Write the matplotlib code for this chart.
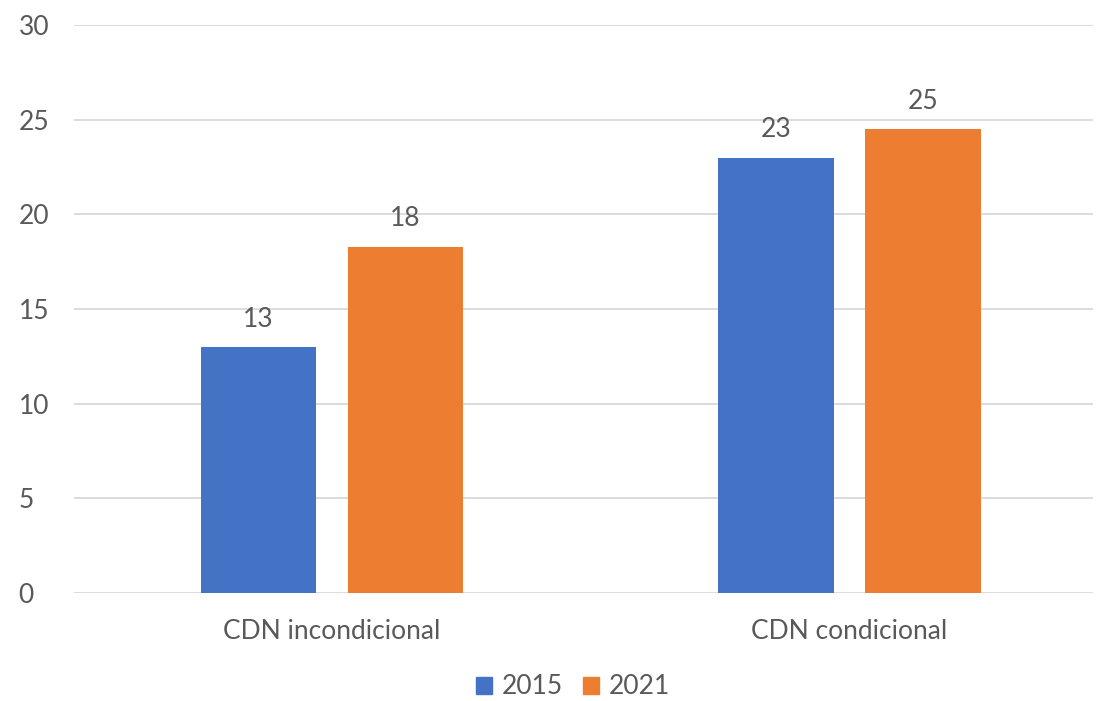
import numpy as np
import matplotlib.pyplot as plt
from matplotlib.patches import Patch

plt.rcParams['font.family'] = ['Lato', 'DejaVu Sans']

categories = ['CDN incondicional', 'CDN condicional']
series = ['2015', '2021']
values_2015 = [13.0, 23.0]
values_2021 = [18.3, 24.5]
labels_2015 = ['13', '23']
labels_2021 = ['18', '25']
colors = ['#4472C4', '#ED7D31']
text_color = '#595959'

fig = plt.figure(figsize=(10.97, 7.01), dpi=100)
ax = fig.add_axes([74 / 1097, 1 - 593 / 701, (1093 - 74) / 1097, (593 - 25) / 701])

x = np.arange(len(categories))
w = 0.224
off = 0.142
b1 = ax.bar(x - off, values_2015, w, color=colors[0], zorder=3)
b2 = ax.bar(x + off, values_2021, w, color=colors[1], zorder=3)

for bars, labs in [(b1, labels_2015), (b2, labels_2021)]:
    for rect, lab in zip(bars, labs):
        ax.annotate(lab, (rect.get_x() + rect.get_width() / 2, rect.get_height()),
                    xytext=(0, 11), textcoords='offset points', ha='center', va='bottom',
                    fontsize=19, color=text_color)

ax.set_xlim(-0.4986, 1.4705)
ax.set_ylim(0, 30)
ax.set_yticks(range(0, 31, 5))
ax.set_xticks(x)
ax.set_xticklabels(categories)
ax.tick_params(axis='both', length=0, labelsize=19, labelcolor=text_color)
ax.tick_params(axis='x', pad=19)
ax.tick_params(axis='y', pad=40)
for lbl in ax.get_yticklabels():
    lbl.set_horizontalalignment('left')
ax.grid(axis='y', color='#D9D9D9', linewidth=1.3, zorder=0)
for s in ['top', 'right', 'left', 'bottom']:
    ax.spines[s].set_visible(False)

handles = [Patch(color=c, label=s) for c, s in zip(colors, series)]
fig.legend(handles=handles, loc='center', bbox_to_anchor=(573 / 1097, 1 - 687 / 701),
           ncol=2, frameon=False, fontsize=19, labelcolor=text_color, borderpad=0.2,
           handlelength=0.6, handleheight=0.6, handletextpad=0.35, columnspacing=0.8)

fig.savefig('out.png', dpi=100)
